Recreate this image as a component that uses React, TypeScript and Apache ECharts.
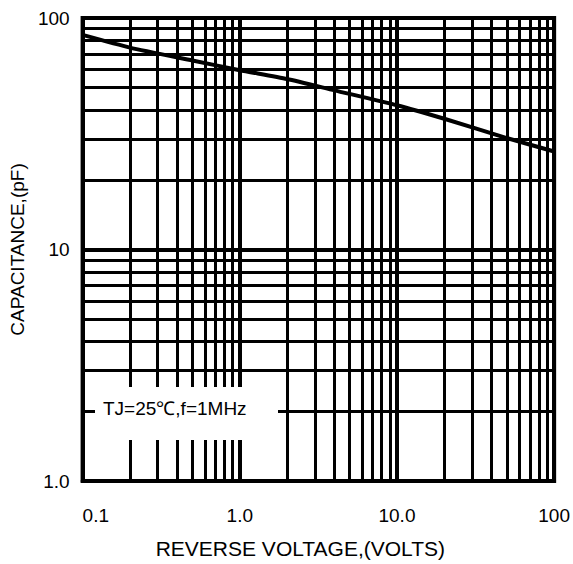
import React, { useEffect, useRef } from "react";
import * as echarts from "echarts";

// Reverse voltage (V) and junction capacitance (pF)
const voltages = [0.1, 0.2, 0.5, 1, 2, 4, 10, 20, 50, 100];
const capacitance = [84.5, 74.5, 65.5, 59.5, 54.5, 48.7, 42, 36.7, 30.3, 26.5];

// Tick labels
const xTickValues = [0.1, 1, 10, 100];
const xTickLabels = ["0.1", "1.0", "10.0", "100"];
const yTickValues = [1, 10, 100];
const yTickLabels = ["1.0", "10", "100"];

// Minor (log) grid lines
const xMinorGrid = [
  0.2, 0.3, 0.4, 0.5, 0.6, 0.7, 0.8, 0.9,
  2, 3, 4, 5, 6, 7, 8, 9,
  20, 30, 40, 50, 60, 70, 80, 90,
];
const yMinorGrid = [2, 3, 4, 5, 6, 7, 8, 9, 20, 30, 40, 50, 60, 70, 80, 90];

const legendText = "TJ=25℃,f=1MHz";
const xName = "REVERSE VOLTAGE,(VOLTS)";
const yName = "CAPACITANCE,(pF)";

const FONT = "'Liberation Sans', Arial, sans-serif";

function labelFor(values: number[], labels: string[]) {
  return (v: number) => {
    const i = values.findIndex(
      (t) => Math.abs(Math.log10(t) - Math.log10(v)) < 1e-6
    );
    return i >= 0 ? labels[i] : "";
  };
}

export default function App() {
  const ref = useRef<HTMLDivElement>(null);

  useEffect(() => {
    document.body.style.margin = "0";
    if (!ref.current) return;
    const chart = echarts.init(ref.current, undefined, { renderer: "svg" });

    const gridLine = { color: "#000", width: 3, type: "solid" as const };

    chart.setOption({
      animation: false,
      backgroundColor: "#fff",
      grid: {
        left: 77,
        right: 17,
        top: 18,
        bottom: 83,
        show: true,
        borderColor: "#000",
        borderWidth: 4,
        backgroundColor: "transparent",
      },
      xAxis: {
        type: "log",
        logBase: 10,
        min: 0.1,
        max: 100,
        name: xName,
        nameLocation: "middle",
        nameGap: 57,
        nameTextStyle: {
          fontFamily: FONT,
          fontSize: 21,
          color: "#000",
          padding: [0, 36, 0, 0],
        },
        axisLine: { show: true, lineStyle: { color: "#000", width: 4 } },
        axisTick: { show: false },
        splitLine: { show: true, lineStyle: { color: "#000", width: 4 } },
        axisLabel: {
          formatter: labelFor(xTickValues, xTickLabels),
          fontFamily: FONT,
          fontSize: 19,
          color: "#000",
          margin: 25,
          alignMinLabel: "left",
        },
      },
      yAxis: {
        type: "log",
        logBase: 10,
        min: 1,
        max: 100,
        name: yName,
        nameLocation: "middle",
        nameGap: 48,
        nameTextStyle: { fontFamily: FONT, fontSize: 19, color: "#000" },
        axisLine: { show: true, lineStyle: { color: "#000", width: 4 } },
        axisTick: { show: false },
        splitLine: { show: true, lineStyle: { color: "#000", width: 4 } },
        axisLabel: {
          formatter: labelFor(yTickValues, yTickLabels),
          fontFamily: FONT,
          fontSize: 19,
          color: "#000",
          margin: 13,
        },
      },
      series: [
        {
          type: "line",
          name: "grid",
          data: voltages.map((v, i) => [v, capacitance[i]]),
          showSymbol: false,
          lineStyle: { opacity: 0 },
          silent: true,
          z: 1,
          markLine: {
            silent: true,
            z: 1,
            symbol: ["none", "none"],
            label: { show: false },
            emphasis: { disabled: true },
            lineStyle: gridLine,
            data: [
              ...xMinorGrid.map((v) => ({ xAxis: v })),
              ...yMinorGrid.map((v) => ({ yAxis: v })),
            ],
          },
        },
        {
          type: "line",
          name: "C",
          data: voltages.map((v, i) => [v, capacitance[i]]),
          showSymbol: false,
          smooth: 0.2,
          lineStyle: { color: "#000", width: 4 },
          z: 5,
        },
      ],
      graphic: [
        {
          type: "rect",
          z: 100,
          shape: { x: 95, y: 387, width: 183, height: 53 },
          style: { fill: "#fff" },
        },
        {
          type: "text",
          z: 101,
          x: 103,
          y: 408,
          style: {
            text: legendText,
            fontFamily: FONT,
            fontSize: 19,
            fill: "#000",
            verticalAlign: "middle",
          },
        },
      ],
    });

    return () => chart.dispose();
  }, []);

  return <div ref={ref} style={{ width: 573, height: 564 }} />;
}
